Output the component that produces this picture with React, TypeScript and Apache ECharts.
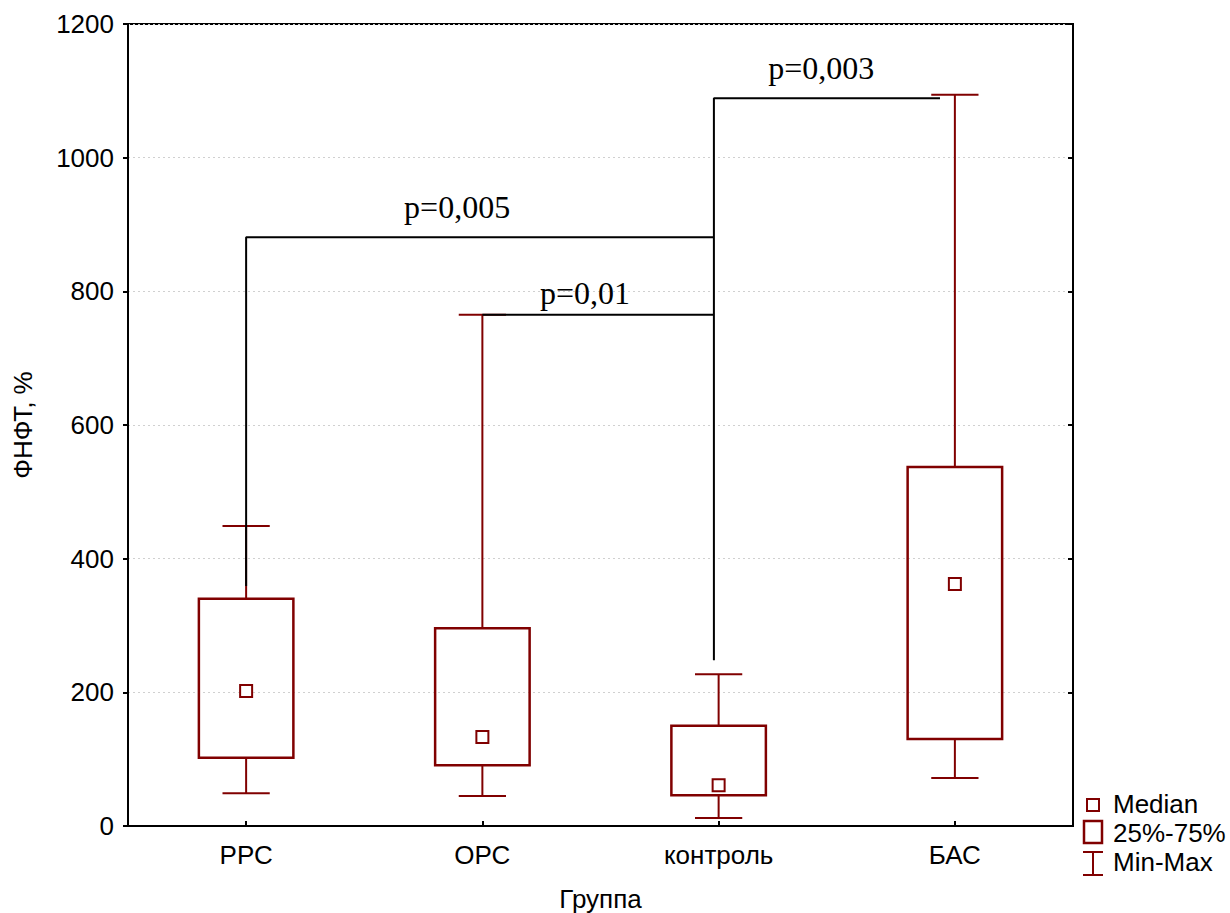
import React, { useEffect, useRef } from "react";
import * as echarts from "echarts";

const categories = ["РРС", "ОРС", "контроль", "БАС"];
const minVals = [49, 45, 12, 72];
const q1Vals = [102, 91, 46, 130];
const medianVals = [202, 133, 61, 362];
const q3Vals = [340, 296, 150, 537];
const maxVals = [449, 765, 227, 1094];

// significance brackets, in data space (x: category position, y: value)
const bracket003 = [[1.98, 248], [1.98, 1089], [2.937, 1089]];
const bracket005 = [[0, 359], [0, 881], [1.98, 881]];
const bracket001 = [[1.0, 765], [1.98, 765]];

const pLabels = ["p=0,003", "p=0,005", "p=0,01"];
const pX = [2.434, 0.893, 1.434];
const pY = [1134, 926, 797];

const RED = "#800000";
const SANS = "'Liberation Sans', Arial, sans-serif";
const SERIF = "'Liberation Serif', 'Times New Roman', serif";
const FS = 26;

export default function App() {
  const ref = useRef<HTMLDivElement>(null);
  useEffect(() => {
    if (!ref.current) return;
    const chart = echarts.init(ref.current, null, { renderer: "svg" });
    const boxData = categories.map((c, i) => [i, minVals[i], q1Vals[i], medianVals[i], q3Vals[i], maxVals[i]]);
    const textData = pLabels.map((t, i) => [pX[i], pY[i], i]);
    const bracketSeries = (data: number[][]) => ({
      type: "line",
      xAxisIndex: 1,
      yAxisIndex: 0,
      data,
      symbol: "none",
      lineStyle: { color: "#000", width: 2 },
      z: 5,
      silent: true,
    });
    const option: any = {
      animation: false,
      backgroundColor: "#fff",
      grid: {
        left: 128,
        top: 24,
        right: 157,
        bottom: 87,
        outerBoundsMode: "none",
        containLabel: false,
        show: true,
        borderColor: "#000",
        borderWidth: 2,
        backgroundColor: "transparent",
      },
      xAxis: [
        {
          type: "category",
          data: categories,
          boundaryGap: true,
          name: "Группа",
          nameLocation: "middle",
          nameGap: 60,
          nameTextStyle: { fontSize: FS, color: "#000", fontFamily: SANS },
          axisLine: { onZero: false, lineStyle: { color: "#000", width: 2 } },
          axisTick: { show: true, inside: true, alignWithLabel: true, length: 5, lineStyle: { color: "#000", width: 2 } },
          axisLabel: { fontSize: FS, color: "#000", fontFamily: SANS, margin: 16 },
          splitLine: { show: false },
        },
        {
          type: "value",
          min: -0.5,
          max: 3.5,
          show: false,
          axisLine: { onZero: false },
        },
      ],
      yAxis: [
        {
          type: "value",
          min: 0,
          max: 1200,
          interval: 200,
          name: "ФНФТ, %",
          nameLocation: "middle",
          nameRotate: 90,
          nameGap: 92,
          nameTextStyle: { fontSize: FS, color: "#000", fontFamily: SANS },
          axisLine: { show: true, onZero: false, lineStyle: { color: "#000", width: 2 } },
          axisTick: { show: true, inside: false, length: 5, lineStyle: { color: "#000", width: 2 } },
          axisLabel: {
            fontSize: FS,
            color: "#000",
            fontFamily: SANS,
            margin: 14,
            formatter: (v: number) => String(v),
          },
          splitLine: { show: true, lineStyle: { color: "#d0d0d0", type: [2, 3], width: 1 } },
        },
        {
          type: "value",
          min: 0,
          max: 1200,
          interval: 200,
          position: "right",
          axisLine: { show: true, onZero: false, lineStyle: { color: "#000", width: 2 } },
          axisTick: { show: true, inside: true, length: 5, lineStyle: { color: "#000", width: 2 } },
          axisLabel: { show: false },
          splitLine: { show: false },
        },
      ],
      series: [
        {
          type: "custom",
          xAxisIndex: 0,
          yAxisIndex: 0,
          data: boxData,
          encode: { x: 0, y: [1, 2, 3, 4, 5] },
          z: 3,
          renderItem: (params: any, api: any) => {
            const idx = api.value(0);
            const pMin = api.coord([idx, api.value(1)]);
            const pQ1 = api.coord([idx, api.value(2)]);
            const pMed = api.coord([idx, api.value(3)]);
            const pQ3 = api.coord([idx, api.value(4)]);
            const pMax = api.coord([idx, api.value(5)]);
            const band = api.size([1, 0])[0];
            const bw = band * 0.4;
            const cw = band * 0.2;
            const x = pMed[0];
            const ls = { stroke: RED, lineWidth: 2, fill: null };
            return {
              type: "group",
              children: [
                { type: "line", shape: { x1: x, y1: pQ3[1], x2: x, y2: pMax[1] }, style: ls },
                { type: "line", shape: { x1: x, y1: pQ1[1], x2: x, y2: pMin[1] }, style: ls },
                { type: "line", shape: { x1: x - cw / 2, y1: pMax[1], x2: x + cw / 2, y2: pMax[1] }, style: ls },
                { type: "line", shape: { x1: x - cw / 2, y1: pMin[1], x2: x + cw / 2, y2: pMin[1] }, style: ls },
                {
                  type: "rect",
                  shape: { x: x - bw / 2, y: pQ3[1], width: bw, height: pQ1[1] - pQ3[1] },
                  style: { stroke: RED, lineWidth: 2.5, fill: "rgba(0,0,0,0)" },
                },
                {
                  type: "rect",
                  shape: { x: x - 6, y: pMed[1] - 6, width: 12, height: 12 },
                  style: { stroke: RED, lineWidth: 2, fill: "#fff" },
                },
              ],
            };
          },
        },
        bracketSeries(bracket003),
        bracketSeries(bracket005),
        bracketSeries(bracket001),
        {
          type: "custom",
          xAxisIndex: 1,
          yAxisIndex: 0,
          data: textData,
          encode: { x: 0, y: 1 },
          z: 6,
          renderItem: (params: any, api: any) => {
            const p = api.coord([api.value(0), api.value(1)]);
            return {
              type: "text",
              x: p[0],
              y: p[1],
              style: {
                text: pLabels[api.value(2)],
                fontSize: 32,
                fontFamily: SERIF,
                fill: "#000",
                align: "center",
                verticalAlign: "middle",
              },
            };
          },
        },
      ],
      graphic: [
        {
          type: "rect",
          shape: { x: 1087, y: 799, width: 12, height: 12 },
          style: { stroke: RED, lineWidth: 2, fill: "#fff" },
        },
        {
          type: "rect",
          shape: { x: 1084, y: 821, width: 18, height: 22 },
          style: { stroke: RED, lineWidth: 2.5, fill: "#fff" },
        },
        { type: "line", shape: { x1: 1083, y1: 852, x2: 1103, y2: 852 }, style: { stroke: RED, lineWidth: 2 } },
        { type: "line", shape: { x1: 1093, y1: 852, x2: 1093, y2: 875 }, style: { stroke: RED, lineWidth: 2 } },
        { type: "line", shape: { x1: 1083, y1: 875, x2: 1103, y2: 875 }, style: { stroke: RED, lineWidth: 2 } },
        {
          type: "text",
          x: 1113,
          y: 804,
          style: { text: "Median", fontSize: FS, fontFamily: SANS, fill: "#000", verticalAlign: "middle" },
        },
        {
          type: "text",
          x: 1113,
          y: 833,
          style: { text: "25%-75%", fontSize: FS, fontFamily: SANS, fill: "#000", verticalAlign: "middle" },
        },
        {
          type: "text",
          x: 1113,
          y: 862,
          style: { text: "Min-Max", fontSize: FS, fontFamily: SANS, fill: "#000", verticalAlign: "middle" },
        },
      ],
    };
    chart.setOption(option);
    return () => chart.dispose();
  }, []);
  return (
    <div
      ref={ref}
      style={{ position: "fixed", left: 0, top: 0, width: 1230, height: 913, background: "#fff" }}
    />
  );
}
